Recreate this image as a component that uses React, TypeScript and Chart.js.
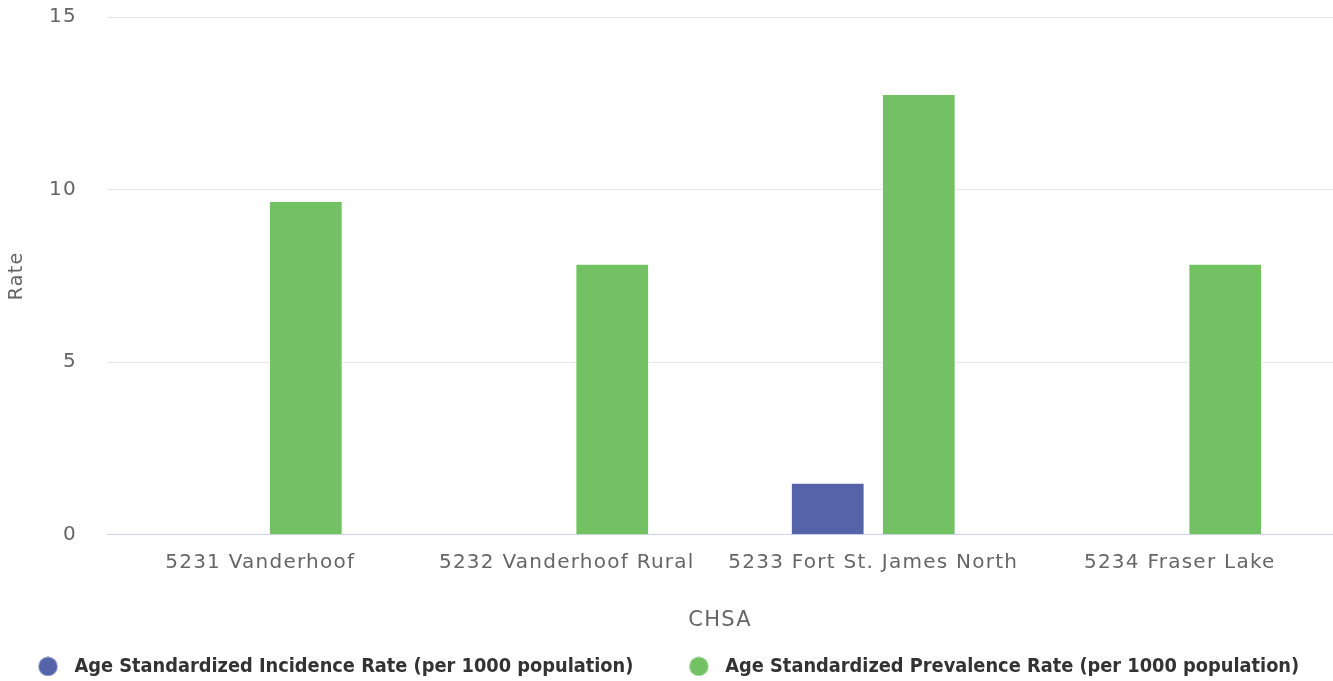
import React, { useEffect, useRef } from "react";
import { Chart, registerables } from "chart.js";

Chart.register(...registerables);

const categories = [
  "5231 Vanderhoof",
  "5232 Vanderhoof Rural",
  "5233 Fort St. James North",
  "5234 Fraser Lake",
];
const incidenceLabel = "Age Standardized Incidence Rate (per 1000 population)";
const prevalenceLabel = "Age Standardized Prevalence Rate (per 1000 population)";
const incidenceValues = [null, null, 1.51, null];
const prevalenceValues = [9.67, 7.85, 12.77, 7.85];
const yTicks = [0, 5, 10, 15];
const incidenceColor = "#5563a8";
const prevalenceColor = "#72c163";

const LETTER = "1.25px";
const LEGEND_PAD = 10;
const LEGEND_HEIGHT = 40;
const LEGEND_ITEM_TOP = 15.5;
const MARKER_BLANK = 46;
const MARKER_R = 9.5;
const FIRST_MARKER_CENTER = 48;

function legendMarker(color: string) {
  const c = document.createElement("canvas");
  c.width = MARKER_BLANK + 26;
  c.height = 20;
  const g = c.getContext("2d")!;
  g.fillStyle = color;
  g.beginPath();
  g.arc(MARKER_BLANK + MARKER_R, 10, MARKER_R, 0, Math.PI * 2);
  g.fill();
  return c;
}

const spacingPlugin = {
  id: "spacing",
  afterInit(chart: any) {
    chart.ctx.letterSpacing = LETTER;
    const lg = chart.legend;
    if (lg && !lg.__wrapped) {
      lg.__wrapped = true;
      const fit = lg.fit.bind(lg);
      const draw = lg.draw.bind(lg);
      lg.fit = () => {
        chart.ctx.letterSpacing = "0px";
        fit();
        lg.height = LEGEND_HEIGHT;
        chart.ctx.letterSpacing = LETTER;
      };
      lg.draw = () => {
        chart.ctx.letterSpacing = "0px";
        const dy = LEGEND_PAD - LEGEND_ITEM_TOP;
        const lw = lg.lineWidths ? lg.lineWidths[0] : 0;
        const startX = (lg.left + LEGEND_PAD + lg.right - lw) / 2;
        const dx = FIRST_MARKER_CENTER - (startX + MARKER_BLANK + MARKER_R);
        lg.top -= dy;
        lg.left += dx;
        lg.right += dx;
        draw();
        lg.top += dy;
        lg.left -= dx;
        lg.right -= dx;
        chart.ctx.letterSpacing = LETTER;
      };
    }
  },
  beforeUpdate(chart: any) {
    chart.ctx.letterSpacing = LETTER;
  },
};

export default function App() {
  const ref = useRef<HTMLCanvasElement | null>(null);
  useEffect(() => {
    document.body.style.margin = "0";
    if (!ref.current) return;
    const font = "'DejaVu Sans', sans-serif";
    const markers = [legendMarker(incidenceColor), legendMarker(prevalenceColor)];
    const chart = new Chart(ref.current, {
      type: "bar",
      data: {
        labels: categories,
        datasets: [
          {
            label: incidenceLabel,
            data: incidenceValues,
            backgroundColor: incidenceColor,
            borderColor: "#ffffff",
            borderWidth: 1,
            categoryPercentage: 0.594,
            barPercentage: 0.81,
          },
          {
            label: prevalenceLabel,
            data: prevalenceValues,
            backgroundColor: prevalenceColor,
            borderColor: "#ffffff",
            borderWidth: 1,
            categoryPercentage: 0.594,
            barPercentage: 0.81,
          },
        ],
      },
      plugins: [spacingPlugin],
      options: {
        animation: false,
        responsive: false,
        maintainAspectRatio: false,
        layout: { padding: { left: 6, right: 0, top: 17, bottom: 0 } },
        plugins: {
          tooltip: { enabled: false },
          legend: {
            position: "bottom",
            labels: {
              usePointStyle: true,
              pointStyleWidth: MARKER_BLANK + 26,
              boxHeight: 18,
              padding: LEGEND_PAD,
              color: "#333333",
              font: { family: "'DejaVu Sans Condensed', 'DejaVu Sans', sans-serif", size: 19.8, weight: "bold" },
              generateLabels: (ch: any) => {
                const items = Chart.defaults.plugins.legend.labels.generateLabels(ch);
                items.forEach((it: any, i: number) => {
                  it.pointStyle = markers[i];
                });
                return items;
              },
            },
          },
        },
        scales: {
          x: {
            grid: { display: false, drawTicks: false },
            border: { color: "#ccd6eb", width: 1 },
            ticks: {
              color: "#666666",
              padding: 16,
              font: { family: font, size: 20 },
            },
            title: {
              display: true,
              text: "CHSA",
              color: "#666666",
              padding: { top: 17, bottom: 8 },
              font: { family: font, size: 21 },
            },
          },
          y: {
            min: 0,
            max: 15,
            afterBuildTicks: (axis: any) => {
              axis.ticks = yTicks.map((v) => ({ value: v }));
            },
            afterFit: (scale: any) => {
              scale.width = 101;
              scale.paddingTop = 0;
              scale.paddingBottom = 0;
            },
            grid: { color: "#e6e6e6", drawTicks: false },
            border: { display: false },
            ticks: {
              color: "#666666",
              padding: 30,
              font: { family: font, size: 20 },
            },
            title: {
              display: true,
              text: "Rate",
              color: "#666666",
              padding: { top: 0, bottom: 22 },
              font: { family: font, size: 19 },
            },
          },
        },
      },
    });
    return () => chart.destroy();
  }, []);
  return (
    <div style={{ position: "fixed", left: 0, top: 0, width: 1333, height: 681 }}>
      <canvas ref={ref} width={1333} height={681} />
    </div>
  );
}
